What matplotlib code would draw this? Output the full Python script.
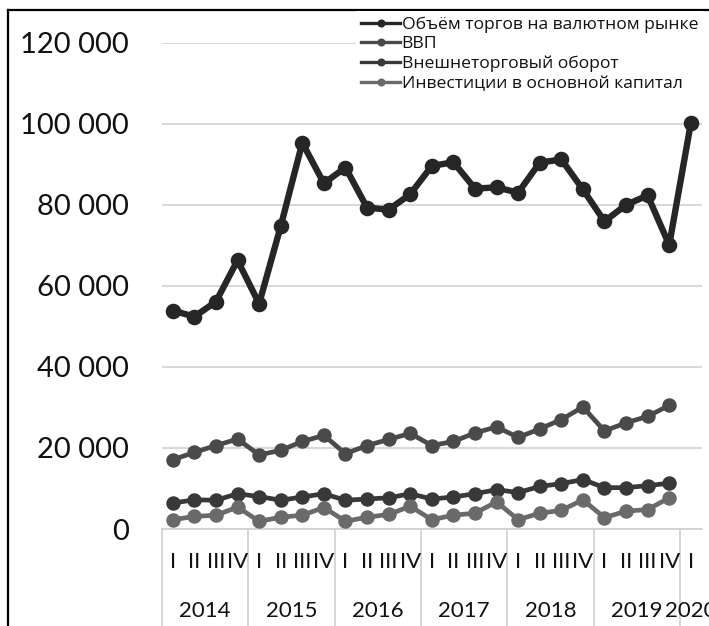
import matplotlib
matplotlib.use("Agg")
import matplotlib.pyplot as plt
from matplotlib.lines import Line2D

years = ["2014", "2015", "2016", "2017", "2018", "2019", "2020"]
quarters = ["I", "II", "III", "IV"] * 6 + ["I"]

fx_volume = [53900, 52400, 56100, 66300, 55600, 74700, 95300, 85300, 89200, 79300, 78800, 82600,
             89600, 90500, 84000, 84300, 83000, 90400, 91200, 83800, 75900, 80000, 82300, 70100,
             100100]
gdp = [17100, 18900, 20600, 22200, 18300, 19400, 21600, 23100, 18600, 20600, 22100, 23600,
       20600, 21600, 23700, 25200, 22600, 24700, 27000, 30100, 24200, 26200, 27800, 30500]
trade = [6400, 7200, 7100, 8700, 8000, 7100, 7900, 8700, 7100, 7400, 7700, 8700,
         7400, 7900, 8700, 9700, 9000, 10500, 11200, 12200, 10200, 10200, 10700, 11300]
invest = [2300, 3100, 3400, 5400, 1900, 2900, 3400, 5300, 1900, 2900, 3600, 5600,
          2300, 3400, 3900, 6700, 2300, 3900, 4600, 7200, 2800, 4400, 4800, 7700]

series_names = ["Объём торгов на валютном рынке", "ВВП", "Внешнеторговый оборот",
                "Инвестиции в основной капитал"]
series_colors = ["#262626", "#4a4a4a", "#383838", "#6a6a6a"]

W, H = 709, 626
fig = plt.figure(figsize=(W / 100, H / 100), dpi=100)
ax = fig.add_axes([162 / W, (H - 529) / H, (701.6 - 162) / W, (529 - 42.7) / H])

num_font = ["Lato", "DejaVu Sans"]
leg_font = ["Open Sans", "DejaVu Sans"]

data = [fx_volume, gdp, trade, invest]
for i, (vals, name, col) in enumerate(zip(data, series_names, series_colors)):
    xs = list(range(len(vals)))
    lw = 4.6 if i == 0 else 3.4
    ms = 10.2 if i == 0 else 9.4
    ax.plot(xs, vals, color=col, lw=lw, marker="o", ms=ms, mec=col, mfc=col,
            label=name, solid_joinstyle="round", zorder=3 + i)

ax.set_xlim(-0.5, len(quarters) - 0.5)
ax.set_ylim(0, 120000)
ax.set_yticks(range(0, 120001, 20000))
ax.set_yticklabels([f"{v:,}".replace(",", " ") for v in range(0, 120001, 20000)],
                   fontsize=21, family=num_font, color="#111111")
ax.tick_params(axis="y", length=0, pad=24)
ax.set_xticks([])
ax.grid(axis="y", color="#d9d9d9", lw=1.5, zorder=0)
ax.set_axisbelow(True)
for s in ["top", "right", "left"]:
    ax.spines[s].set_visible(False)
ax.spines["bottom"].set_color("#d0d0d0")
ax.spines["bottom"].set_linewidth(1.2)

tr = ax.get_xaxis_transform()
ah = 529 - 42.7
for i, q in enumerate(quarters):
    ax.text(i, -(562 - 529) / ah, q, transform=tr, ha="center", va="center",
            fontsize=16, family=num_font, color="#111111", clip_on=False)
for k, yr in enumerate(years):
    n = min(4, len(quarters) - 4 * k)
    cx = 4 * k + (n - 1) / 2
    ax.text(cx, -(611 - 529) / ah, yr, transform=tr, ha="center", va="center",
            fontsize=16, family=num_font, color="#111111", clip_on=False)
for b in range(0, 25, 4):
    ax.plot([b - 0.5, b - 0.5], [0, -0.25], transform=tr, color="#d0d0d0", lw=1.2,
            clip_on=False)

handles = [Line2D([0], [0], color=c, lw=2.4, marker="o", ms=4.8) for c in series_colors]
leg = fig.legend(handles, series_names, loc="upper left",
                 bbox_to_anchor=(356 / W, (H - 11) / H), frameon=True, fancybox=False,
                 facecolor="white", edgecolor="none", framealpha=1,
                 prop={"family": leg_font, "size": 12.6}, handlelength=2.2,
                 handletextpad=0.1, labelspacing=0.2, borderpad=0.3, borderaxespad=0)
for t in leg.get_texts():
    t.set_color("#111111")

fig.add_artist(Line2D([8 / W, 1], [(H - 10) / H, (H - 10) / H], color="black", lw=1.6))
fig.add_artist(Line2D([8 / W, 8 / W], [0, (H - 10) / H], color="black", lw=1.6))

fig.savefig("out.png", dpi=100)
